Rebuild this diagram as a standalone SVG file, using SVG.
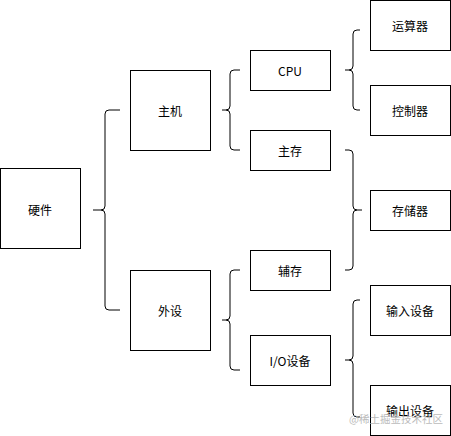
<svg xmlns="http://www.w3.org/2000/svg" width="451" height="436" viewBox="0 0 451 436">
<style>
.box{fill:#fff;stroke:#000;stroke-width:1}
.br{fill:none;stroke:#000;stroke-width:1}
text{font-family:"Noto Sans CJK SC","Liberation Sans",sans-serif;font-size:12px;fill:#000;text-anchor:middle;dominant-baseline:central}
.wm{font-size:10.5px;fill:#bbb}
</style>
<rect width="451" height="436" fill="#fff"/>
<g id="connectors">
<path class="br" d="M120 110 L109 110 Q105 110 105 114 L105 206 Q105 210 101 210 L93 210 M101 210 Q105 210 105 214 L105 306 Q105 310 109 310 L120 310"/>
<path class="br" d="M240 70 L234 70 Q230 70 230 74 L230 106 Q230 110 226 110 L222 110 M226 110 Q230 110 230 114 L230 146 Q230 150 234 150 L240 150"/>
<path class="br" d="M240 270 L234 270 Q230 270 230 274 L230 316 Q230 320 226 320 L222 320 M226 320 Q230 320 230 324 L230 366 Q230 370 234 370 L240 370"/>
<path class="br" d="M360 30 L357 30 Q353 30 353 34 L353 66 Q353 70 349 70 L345 70 M349 70 Q353 70 353 74 L353 106 Q353 110 357 110 L360 110"/>
<path class="br" d="M345 150 L349 150 Q353 150 353 154 L353 206 Q353 210 357 210 L362 210 M357 210 Q353 210 353 214 L353 266 Q353 270 349 270 L345 270"/>
<path class="br" d="M360 300 L357 300 Q353 300 353 304 L353 356 Q353 360 349 360 L345 360 M349 360 Q353 360 353 364 L353 413 Q353 417 357 417 L360 417"/>
</g>
<g id="n-hardware"><rect class="box" x="0.5" y="168.5" width="80" height="80"/><text x="40" y="209">硬件</text></g>
<g id="n-host"><rect class="box" x="130.5" y="70.5" width="80" height="80"/><text x="170" y="110">主机</text></g>
<g id="n-peripheral"><rect class="box" x="130.5" y="270.5" width="80" height="80"/><text x="170" y="310">外设</text></g>
<g id="n-cpu"><rect class="box" x="250.5" y="50.5" width="80" height="40"/><text x="290" y="70">CPU</text></g>
<g id="n-mainmem"><rect class="box" x="250.5" y="130.5" width="80" height="40"/><text x="290" y="150">主存</text></g>
<g id="n-auxmem"><rect class="box" x="250.5" y="250.5" width="80" height="40"/><text x="290" y="270">辅存</text></g>
<g id="n-io"><rect class="box" x="250.5" y="335.5" width="80" height="50"/><text x="290" y="360">I/O设备</text></g>
<g id="n-alu"><rect class="box" x="370.5" y="0.5" width="80" height="50"/><text x="410" y="25">运算器</text></g>
<g id="n-ctrl"><rect class="box" x="370.5" y="85.5" width="80" height="50"/><text x="410" y="110">控制器</text></g>
<g id="n-storage"><rect class="box" x="370.5" y="190.5" width="80" height="40"/><text x="410" y="210">存储器</text></g>
<g id="n-input"><rect class="box" x="370.5" y="285.5" width="80" height="50"/><text x="410" y="310">输入设备</text></g>
<g id="n-output"><rect class="box" x="370.5" y="385.5" width="80" height="50"/><text x="410" y="410">输出设备</text></g>
<text class="wm" x="396" y="418">@稀土掘金技术社区</text>
</svg>
